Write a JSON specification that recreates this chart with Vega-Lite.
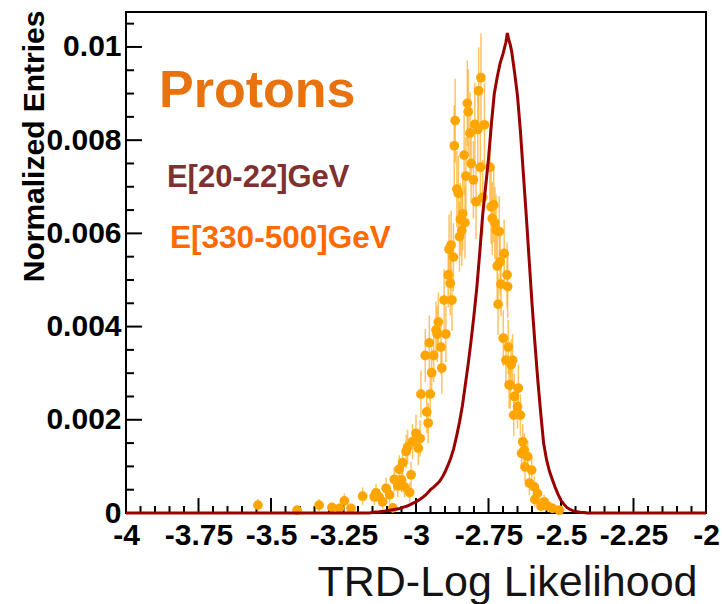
{
  "$schema": "https://vega.github.io/schema/vega-lite/v6.json",
  "width": 580,
  "height": 501,
  "autosize": {"type": "none"},
  "padding": {"left": 126, "top": 12, "right": 16, "bottom": 91},
  "background": "white",
  "config": {
    "view": {"stroke": "black", "strokeWidth": 2},
    "font": "Liberation Sans"
  },
  "datasets": {
    "low": [
      {"x": -4.0, "y": 0}, {"x": -3.5, "y": 0}, {"x": -3.16, "y": 0},
      {"x": -3.15, "y": 0.00001}, {"x": -3.14, "y": 0.00002}, {"x": -3.13, "y": 0.00002},
      {"x": -3.12, "y": 0.00003}, {"x": -3.11, "y": 0.00004}, {"x": -3.10, "y": 0.00005},
      {"x": -3.09, "y": 0.00006}, {"x": -3.08, "y": 0.00007}, {"x": -3.07, "y": 0.00008},
      {"x": -3.06, "y": 0.00009}, {"x": -3.05, "y": 0.00011}, {"x": -3.04, "y": 0.00013},
      {"x": -3.03, "y": 0.00015}, {"x": -3.02, "y": 0.00018}, {"x": -3.01, "y": 0.00021},
      {"x": -3.00, "y": 0.00024}, {"x": -2.99, "y": 0.00028}, {"x": -2.98, "y": 0.00032},
      {"x": -2.97, "y": 0.00037}, {"x": -2.96, "y": 0.00043}, {"x": -2.95, "y": 0.00050},
      {"x": -2.94, "y": 0.00055}, {"x": -2.93, "y": 0.00061}, {"x": -2.92, "y": 0.00067},
      {"x": -2.91, "y": 0.00076}, {"x": -2.90, "y": 0.00088}, {"x": -2.89, "y": 0.00102},
      {"x": -2.88, "y": 0.00118}, {"x": -2.87, "y": 0.00138}, {"x": -2.86, "y": 0.00165},
      {"x": -2.85, "y": 0.00195}, {"x": -2.84, "y": 0.00230}, {"x": -2.83, "y": 0.00275},
      {"x": -2.82, "y": 0.00320}, {"x": -2.81, "y": 0.00370}, {"x": -2.80, "y": 0.00425},
      {"x": -2.79, "y": 0.00485}, {"x": -2.78, "y": 0.00560}, {"x": -2.77, "y": 0.00640},
      {"x": -2.76, "y": 0.00700}, {"x": -2.75, "y": 0.00760}, {"x": -2.74, "y": 0.00835},
      {"x": -2.73, "y": 0.00900}, {"x": -2.72, "y": 0.00935}, {"x": -2.71, "y": 0.00965},
      {"x": -2.70, "y": 0.00985}, {"x": -2.69, "y": 0.01010}, {"x": -2.685, "y": 0.01030},
      {"x": -2.68, "y": 0.01015}, {"x": -2.675, "y": 0.01005},
      {"x": -2.67, "y": 0.00990}, {"x": -2.66, "y": 0.00945}, {"x": -2.65, "y": 0.00895},
      {"x": -2.64, "y": 0.00820}, {"x": -2.63, "y": 0.00730}, {"x": -2.62, "y": 0.00640},
      {"x": -2.61, "y": 0.00545}, {"x": -2.60, "y": 0.00450}, {"x": -2.59, "y": 0.00365},
      {"x": -2.58, "y": 0.00285}, {"x": -2.57, "y": 0.00215}, {"x": -2.56, "y": 0.00150},
      {"x": -2.55, "y": 0.00115}, {"x": -2.54, "y": 0.00090}, {"x": -2.53, "y": 0.00072},
      {"x": -2.52, "y": 0.00055}, {"x": -2.51, "y": 0.00040}, {"x": -2.50, "y": 0.00027},
      {"x": -2.49, "y": 0.00019}, {"x": -2.48, "y": 0.00012}, {"x": -2.47, "y": 0.00008},
      {"x": -2.46, "y": 0.00005}, {"x": -2.45, "y": 0.00003}, {"x": -2.44, "y": 0.00002},
      {"x": -2.43, "y": 0.00001}, {"x": -2.42, "y": 0.00001}, {"x": -2.41, "y": 0},
      {"x": -2.2, "y": 0}, {"x": -2.0, "y": 0}
    ],
    "high": [
      {"x": -2.776, "y": 0.00934, "err": 0.00095}, {"x": -2.784, "y": 0.00906, "err": 0.00093},
      {"x": -2.823, "y": 0.00879, "err": 0.00092}, {"x": -2.820, "y": 0.00861, "err": 0.00091},
      {"x": -2.865, "y": 0.00842, "err": 0.0009}, {"x": -2.797, "y": 0.00834, "err": 0.00089},
      {"x": -2.764, "y": 0.00833, "err": 0.00089}, {"x": -2.787, "y": 0.00823, "err": 0.00089},
      {"x": -2.814, "y": 0.00815, "err": 0.00088}, {"x": -2.868, "y": 0.00788, "err": 0.00087},
      {"x": -2.834, "y": 0.00768, "err": 0.00086}, {"x": -2.810, "y": 0.0075, "err": 0.00085},
      {"x": -2.778, "y": 0.00742, "err": 0.00084}, {"x": -2.745, "y": 0.00742, "err": 0.00084},
      {"x": -2.828, "y": 0.00723, "err": 0.00083}, {"x": -2.802, "y": 0.00715, "err": 0.00083},
      {"x": -2.859, "y": 0.00695, "err": 0.00082}, {"x": -2.854, "y": 0.00686, "err": 0.00081},
      {"x": -2.793, "y": 0.00668, "err": 0.0008}, {"x": -2.770, "y": 0.00677, "err": 0.0008},
      {"x": -2.741, "y": 0.00657, "err": 0.0008}, {"x": -2.732, "y": 0.00661, "err": 0.0008},
      {"x": -2.839, "y": 0.00642, "err": 0.00078}, {"x": -2.847, "y": 0.0063, "err": 0.00078},
      {"x": -2.831, "y": 0.00623, "err": 0.00077}, {"x": -2.737, "y": 0.00632, "err": 0.00078},
      {"x": -2.728, "y": 0.00622, "err": 0.00077}, {"x": -2.724, "y": 0.00607, "err": 0.00076},
      {"x": -2.713, "y": 0.00604, "err": 0.00076}, {"x": -2.842, "y": 0.00606, "err": 0.00076},
      {"x": -2.850, "y": 0.00593, "err": 0.00075}, {"x": -2.879, "y": 0.00575, "err": 0.00074},
      {"x": -2.886, "y": 0.00566, "err": 0.00074}, {"x": -2.871, "y": 0.00549, "err": 0.00073},
      {"x": -2.696, "y": 0.00557, "err": 0.00073}, {"x": -2.710, "y": 0.00539, "err": 0.00072},
      {"x": -2.720, "y": 0.0053, "err": 0.00071}, {"x": -2.889, "y": 0.00511, "err": 0.0007},
      {"x": -2.882, "y": 0.00493, "err": 0.00069}, {"x": -2.686, "y": 0.00511, "err": 0.0007},
      {"x": -2.707, "y": 0.00491, "err": 0.00069}, {"x": -2.684, "y": 0.00486, "err": 0.00068},
      {"x": -2.903, "y": 0.00457, "err": 0.00066}, {"x": -2.876, "y": 0.00457, "err": 0.00066},
      {"x": -2.717, "y": 0.00448, "err": 0.00066}, {"x": -2.923, "y": 0.0041, "err": 0.00063},
      {"x": -2.931, "y": 0.00393, "err": 0.00061}, {"x": -2.927, "y": 0.00384, "err": 0.0006},
      {"x": -2.897, "y": 0.00384, "err": 0.0006}, {"x": -2.954, "y": 0.00365, "err": 0.00059},
      {"x": -2.699, "y": 0.00375, "err": 0.0006}, {"x": -2.914, "y": 0.00356, "err": 0.00058},
      {"x": -2.682, "y": 0.00356, "err": 0.00058}, {"x": -2.968, "y": 0.00338, "err": 0.00057},
      {"x": -2.939, "y": 0.00338, "err": 0.00057}, {"x": -2.690, "y": 0.00328, "err": 0.00056},
      {"x": -2.667, "y": 0.00328, "err": 0.00056}, {"x": -2.672, "y": 0.00318, "err": 0.00055},
      {"x": -2.911, "y": 0.00311, "err": 0.00055}, {"x": -2.946, "y": 0.00301, "err": 0.00054},
      {"x": -2.675, "y": 0.00275, "err": 0.00051}, {"x": -2.647, "y": 0.00268, "err": 0.00051},
      {"x": -2.983, "y": 0.00255, "err": 0.0005}, {"x": -2.951, "y": 0.00255, "err": 0.0005},
      {"x": -2.963, "y": 0.00217, "err": 0.00046}, {"x": -2.958, "y": 0.00193, "err": 0.00043},
      {"x": -3.000, "y": 0.00171, "err": 0.0004}, {"x": -2.986, "y": 0.0016, "err": 0.00039},
      {"x": -3.012, "y": 0.00153, "err": 0.00038}, {"x": -3.029, "y": 0.00142, "err": 0.00037},
      {"x": -2.992, "y": 0.00139, "err": 0.00037}, {"x": -3.034, "y": 0.00132, "err": 0.00036},
      {"x": -3.046, "y": 0.00108, "err": 0.00032}, {"x": -3.058, "y": 0.00094, "err": 0.0003},
      {"x": -3.017, "y": 0.00082, "err": 0.00028}, {"x": -3.075, "y": 0.00072, "err": 0.00026},
      {"x": -3.050, "y": 0.00071, "err": 0.00026}, {"x": -3.063, "y": 0.00058, "err": 0.00024},
      {"x": -3.040, "y": 0.00056, "err": 0.00023}, {"x": -3.103, "y": 0.00053, "err": 0.00023},
      {"x": -3.022, "y": 0.00044, "err": 0.00021}, {"x": -3.091, "y": 0.00039, "err": 0.00019},
      {"x": -3.184, "y": 0.00036, "err": 0.00019}, {"x": -3.144, "y": 0.00035, "err": 0.00018},
      {"x": -3.127, "y": 0.00034, "err": 0.00018}, {"x": -3.138, "y": 0.00043, "err": 0.0002},
      {"x": -3.115, "y": 0.00024, "err": 0.00015}, {"x": -3.247, "y": 0.00026, "err": 0.00016},
      {"x": -3.264, "y": 0.0001, "err": 0.0001}, {"x": -3.080, "y": 0.00011, "err": 0.0001},
      {"x": -3.224, "y": 0.0001, "err": 0.0001}, {"x": -3.545, "y": 0.00017, "err": 0.00013},
      {"x": -3.410, "y": 0.00006, "err": 0.00008}, {"x": -3.334, "y": 0.00017, "err": 0.00013},
      {"x": -3.290, "y": 0.00012, "err": 0.0001},
      {"x": -2.679, "y": 0.00275, "err": 0.00051}, {"x": -2.661, "y": 0.0025, "err": 0.00049},
      {"x": -2.650, "y": 0.00228, "err": 0.00047}, {"x": -2.663, "y": 0.0021, "err": 0.00045},
      {"x": -2.640, "y": 0.0021, "err": 0.00045}, {"x": -2.632, "y": 0.00153, "err": 0.00038},
      {"x": -2.627, "y": 0.00135, "err": 0.00036}, {"x": -2.636, "y": 0.00128, "err": 0.00035},
      {"x": -2.615, "y": 0.00121, "err": 0.00034}, {"x": -2.624, "y": 0.00099, "err": 0.00031},
      {"x": -2.601, "y": 0.00092, "err": 0.0003}, {"x": -2.609, "y": 0.00064, "err": 0.00025},
      {"x": -2.592, "y": 0.00056, "err": 0.00023}, {"x": -2.581, "y": 0.00042, "err": 0.0002},
      {"x": -2.590, "y": 0.00029, "err": 0.00017}, {"x": -2.558, "y": 0.00024, "err": 0.00015},
      {"x": -2.569, "y": 0.00015, "err": 0.00012}, {"x": -2.546, "y": 0.00015, "err": 0.00012},
      {"x": -2.529, "y": 0.0001, "err": 0.0001}, {"x": -2.506, "y": 0.00006, "err": 0.00008}
    ],
    "xmajor": [{"x": -3.75}, {"x": -3.5}, {"x": -3.25}, {"x": -3}, {"x": -2.75}, {"x": -2.5}, {"x": -2.25}],
    "xminor": [
      {"x": -3.95}, {"x": -3.9}, {"x": -3.85}, {"x": -3.8}, {"x": -3.7}, {"x": -3.65}, {"x": -3.6}, {"x": -3.55},
      {"x": -3.45}, {"x": -3.4}, {"x": -3.35}, {"x": -3.3}, {"x": -3.2}, {"x": -3.15}, {"x": -3.1}, {"x": -3.05},
      {"x": -2.95}, {"x": -2.9}, {"x": -2.85}, {"x": -2.8}, {"x": -2.7}, {"x": -2.65}, {"x": -2.6}, {"x": -2.55},
      {"x": -2.45}, {"x": -2.4}, {"x": -2.35}, {"x": -2.3}, {"x": -2.2}, {"x": -2.15}, {"x": -2.1}, {"x": -2.05}
    ],
    "ymajor": [{"y": 0.002}, {"y": 0.004}, {"y": 0.006}, {"y": 0.008}, {"y": 0.01}],
    "yminor": [
      {"y": 0.0005}, {"y": 0.001}, {"y": 0.0015}, {"y": 0.0025}, {"y": 0.003}, {"y": 0.0035},
      {"y": 0.0045}, {"y": 0.005}, {"y": 0.0055}, {"y": 0.0065}, {"y": 0.007}, {"y": 0.0075},
      {"y": 0.0085}, {"y": 0.009}, {"y": 0.0095}, {"y": 0.0105}
    ],
    "one": [{"k": 1}]
  },
  "layer": [
    {
      "data": {"name": "xmajor"},
      "mark": {"type": "rule", "color": "black", "strokeWidth": 2},
      "encoding": {
        "x": {"field": "x", "type": "quantitative", "title": "TRD-Log Likelihood"},
        "y": {"datum": 0, "type": "quantitative", "title": "Normalized Entries"},
        "y2": {"datum": 0.00032}
      }
    },
    {
      "data": {"name": "xminor"},
      "mark": {"type": "rule", "color": "black", "strokeWidth": 2},
      "encoding": {
        "x": {"field": "x", "type": "quantitative", "title": "TRD-Log Likelihood"},
        "y": {"datum": 0, "type": "quantitative", "title": "Normalized Entries"},
        "y2": {"datum": 0.00015}
      }
    },
    {
      "data": {"name": "ymajor"},
      "mark": {"type": "rule", "color": "black", "strokeWidth": 2},
      "encoding": {
        "y": {"field": "y", "type": "quantitative", "title": "Normalized Entries"},
        "x": {"datum": -4, "type": "quantitative", "title": "TRD-Log Likelihood"},
        "x2": {"datum": -3.945}
      }
    },
    {
      "data": {"name": "yminor"},
      "mark": {"type": "rule", "color": "black", "strokeWidth": 2},
      "encoding": {
        "y": {"field": "y", "type": "quantitative", "title": "Normalized Entries"},
        "x": {"datum": -4, "type": "quantitative", "title": "TRD-Log Likelihood"},
        "x2": {"datum": -3.9725}
      }
    },
    {
      "data": {"name": "high"},
      "mark": {"type": "errorbar", "color": "#ffa91f", "opacity": 0.7, "thickness": 1.5},
      "encoding": {
        "x": {"field": "x", "type": "quantitative", "title": "TRD-Log Likelihood"},
        "y": {"field": "y", "type": "quantitative", "title": "Normalized Entries"},
        "yError": {"field": "err"}
      }
    },
    {
      "data": {"name": "high"},
      "mark": {"type": "circle", "color": "#ffa500", "size": 95, "opacity": 1},
      "encoding": {
        "x": {"field": "x", "type": "quantitative", "title": "TRD-Log Likelihood"},
        "y": {"field": "y", "type": "quantitative", "title": "Normalized Entries"}
      }
    },
    {
      "data": {"name": "low"},
      "mark": {"type": "line", "color": "#990000", "strokeWidth": 3, "interpolate": "linear"},
      "encoding": {
        "x": {
          "field": "x", "type": "quantitative",
          "scale": {"domain": [-4, -2], "nice": false, "zero": false},
          "title": "TRD-Log Likelihood",
          "axis": {
            "orient": "bottom",
            "values": [-4, -3.75, -3.5, -3.25, -3, -2.75, -2.5, -2.25, -2],
            "labelExpr": "'' + datum.value",
            "domain": false, "grid": false, "ticks": false,
            "labelFont": "Liberation Sans", "labelFontWeight": "bold", "labelFontSize": 30,
            "labelColor": "black", "labelPadding": 7, "labelFlush": false, "labelOverlap": false, "labelBound": false,
            "titleFont": "Liberation Sans", "titleFontWeight": "normal", "titleFontSize": 43,
            "titleColor": "#141414", "titleAlign": "right", "titleBaseline": "alphabetic",
            "titleX": 571, "titleY": 82
          }
        },
        "y": {
          "field": "y", "type": "quantitative",
          "scale": {"domain": [0, 0.01075], "nice": false, "zero": true},
          "title": "Normalized Entries",
          "axis": {
            "orient": "left",
            "values": [0, 0.002, 0.004, 0.006, 0.008, 0.01],
            "labelExpr": "'' + datum.value",
            "domain": false, "grid": false, "ticks": false,
            "labelFont": "Liberation Sans", "labelFontWeight": "bold", "labelFontSize": 30,
            "labelColor": "black", "labelPadding": 5, "labelFlush": false, "labelOverlap": false, "labelBound": false,
            "titleFont": "Liberation Sans", "titleFontWeight": "bold", "titleFontSize": 30,
            "titleColor": "black", "titleAngle": -90, "titleAlign": "right", "titleBaseline": "alphabetic",
            "titleX": -83, "titleY": -2
          }
        }
      }
    },
    {
      "data": {"name": "one"},
      "mark": {"type": "text", "text": "Protons", "font": "Liberation Sans", "fontWeight": "bold", "fontSize": 52, "color": "#e8730e", "align": "left", "baseline": "alphabetic"},
      "encoding": {
        "x": {"datum": -3.886, "type": "quantitative", "title": "TRD-Log Likelihood"},
        "y": {"datum": 0.00871, "type": "quantitative", "title": "Normalized Entries"}
      }
    },
    {
      "data": {"name": "one"},
      "mark": {"type": "text", "text": "E[20-22]GeV", "font": "Liberation Sans", "fontWeight": "bold", "fontSize": 31, "color": "#7f3131", "align": "left", "baseline": "alphabetic"},
      "encoding": {
        "x": {"datum": -3.859, "type": "quantitative", "title": "TRD-Log Likelihood"},
        "y": {"datum": 0.0070, "type": "quantitative", "title": "Normalized Entries"}
      }
    },
    {
      "data": {"name": "one"},
      "mark": {"type": "text", "text": "E[330-500]GeV", "font": "Liberation Sans", "fontWeight": "bold", "fontSize": 31.5, "color": "#ff6a00", "align": "left", "baseline": "alphabetic"},
      "encoding": {
        "x": {"datum": -3.848, "type": "quantitative", "title": "TRD-Log Likelihood"},
        "y": {"datum": 0.00569, "type": "quantitative", "title": "Normalized Entries"}
      }
    }
  ]
}
